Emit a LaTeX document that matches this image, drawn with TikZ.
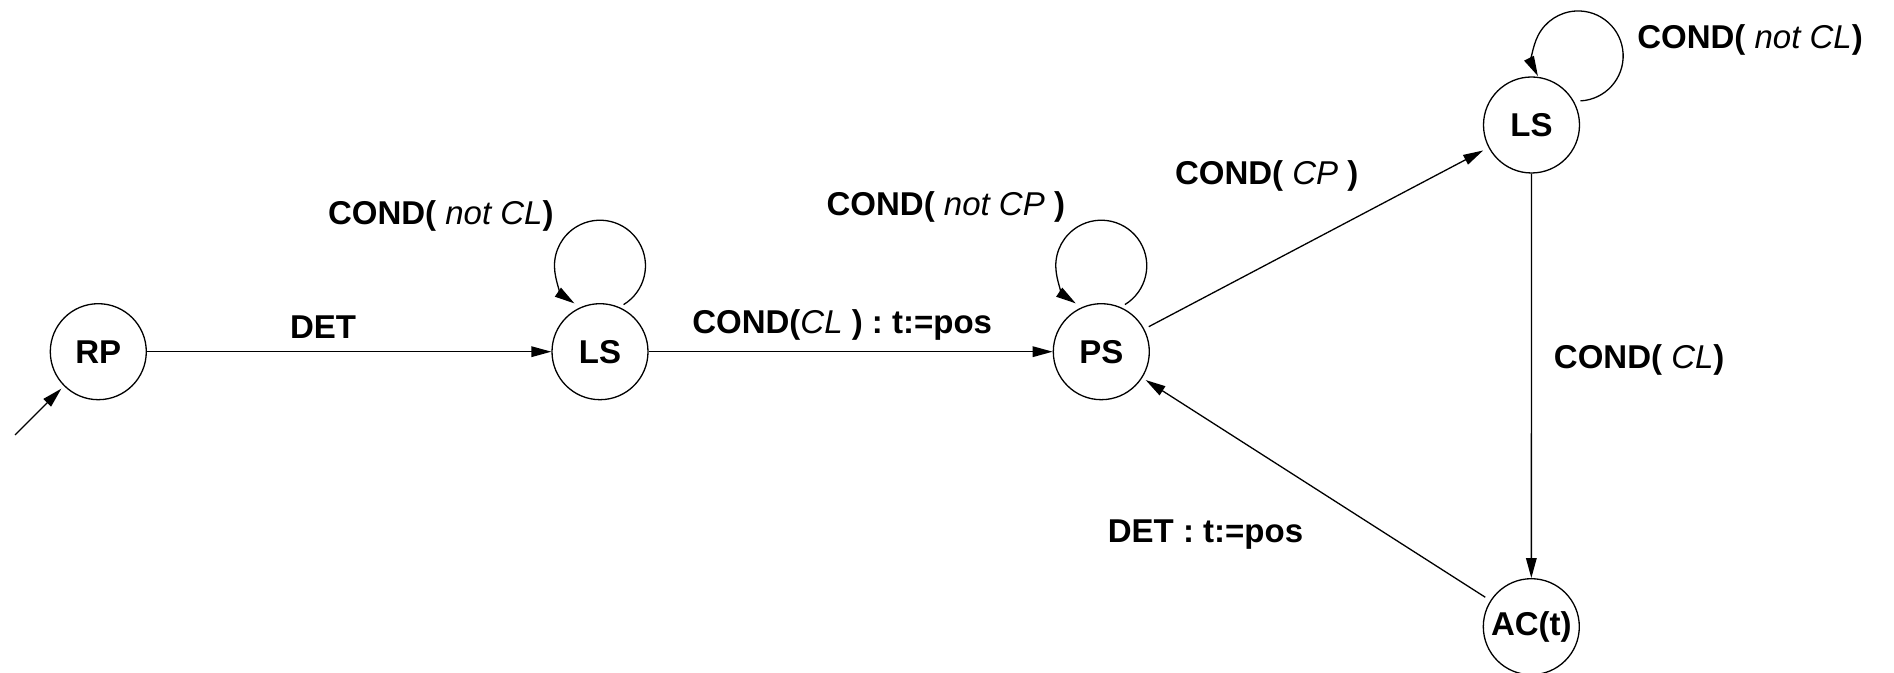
\documentclass[tikz,border=0pt]{standalone}
\usepackage{fontspec}
\setmainfont{Liberation Sans}
\usetikzlibrary{arrows.meta}
\newcommand\condvar[1]{{\mdseries\itshape #1}}
\tikzset{
  state/.style={circle, draw, line width=0.65pt, minimum size=48pt, inner sep=0pt,
    font=\fontsize{16.5}{19}\selectfont\bfseries},
  arr/.style={line width=0.65pt, -{Triangle[length=10pt,width=5.3pt]}},
  lbl/.style={anchor=base, inner sep=0pt, font=\fontsize{16.5}{19}\selectfont\bfseries}
}
\begin{document}
\begin{tikzpicture}[x=0.5pt, y=0.5pt]
\useasboundingbox (0,0) rectangle (1894,673);

% states
\node[state] (RP)  at (98.3, 321.3)  {RP};
\node[state] (LS1) at (600, 321.3)   {LS};
\node[state] (PS)  at (1101.3, 321.3) {PS};
\node[state] (LS2) at (1531.5, 548)  {LS};
\node[state] (AC)  at (1531.3, 46.3) {AC(t)};

% initial arrow
\coordinate (init) at (15, 238);
\draw[arr, shorten >=1.8pt] (init) -- (RP.225);

% transitions
\draw[arr] (RP) -- (LS1);
\draw[arr] (LS1) -- (PS);
\draw[arr, shorten <=2.5pt, shorten >=3pt] (PS) -- (LS2);
\draw[arr] (LS2) -- (AC);
\draw[arr, shorten <=3pt, shorten >=2pt] (AC) -- (PS);

% self loops
\draw[arr] ([shift={(23.6,47.1)}]LS1.center) arc[start angle=-58.7, end angle=235.9, radius=45.5];
\draw[arr] ([shift={(23.6,47.1)}]PS.center) arc[start angle=-58.7, end angle=235.9, radius=45.5];
\draw[arr] ([shift={(49,24.1)}]LS2.center) arc[start angle=-87, end angle=206.6, radius=45];

% labels
\node[lbl] (l1) at (440.8, 448.7) {COND( \condvar{not CL})};
\node[lbl] (l2) at (323, 334.7) {DET};
\node[lbl] (l3) at (842.2, 339.7) {COND(\condvar{CL} ) : t:=pos};
\node[lbl] (l4) at (945.8, 457.3) {COND( \condvar{not CP} )};
\node[lbl] (l5) at (1266.7, 488) {COND( \condvar{CP} )};
\node[lbl] (l6) at (1750, 624.7) {COND( \condvar{not CL})};
\node[lbl] (l7) at (1639.2, 304.7) {COND( \condvar{CL})};
\node[lbl] (l8) at (1205.5, 130.3) {DET : t:=pos};
\end{tikzpicture}
\end{document}
